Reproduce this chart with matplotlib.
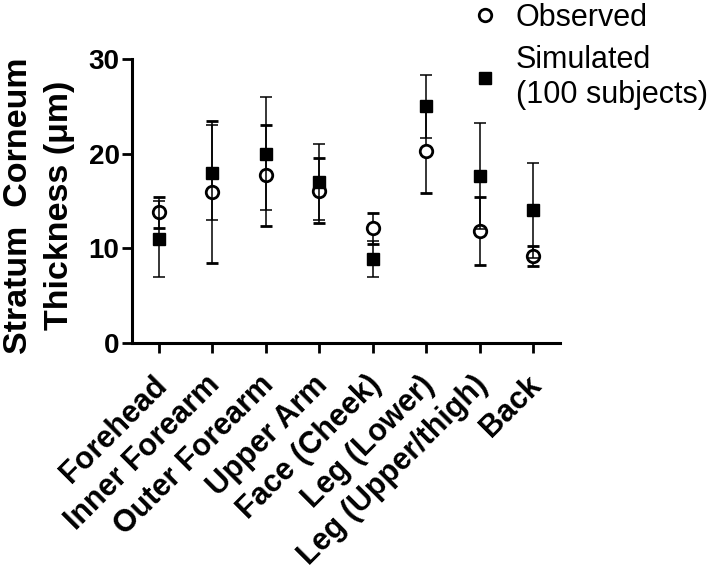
import matplotlib
matplotlib.use("Agg")
import matplotlib.pyplot as plt
import matplotlib.transforms as mtrans

# values
sites = ["Forehead", "Inner Forearm", "Outer Forearm", "Upper Arm",
         "Face (Cheek)", "Leg (Lower)", "Leg (Upper/thigh)", "Back"]
observed = [13.8, 16.0, 17.7, 16.1, 12.1, 20.3, 11.8, 9.2]
observed_err = [1.6, 7.5, 5.3, 3.4, 1.6, 4.5, 3.6, 1.05]
simulated = [11.0, 18.0, 20.0, 17.0, 8.9, 25.0, 17.6, 14.0]
simulated_err = [4.0, 5.0, 6.0, 4.0, 1.9, 3.3, 5.6, 5.0]
yticks = [0, 10, 20, 30]


def main():
    plt.rcParams['font.family'] = ['Liberation Sans', 'DejaVu Sans']

    fig = plt.figure(figsize=(7.09, 5.70), dpi=100)
    ax = fig.add_axes([132 / 709, 1 - 343 / 570, 428 / 709, 284 / 570])

    x = list(range(len(sites)))

    ax.errorbar(x, observed, yerr=observed_err, fmt='o', color='black',
                mfc='white', mec='black', mew=2, ms=9, elinewidth=1.1,
                capsize=4.3, capthick=1.1, label='Observed', zorder=3)
    ax.errorbar(x, simulated, yerr=simulated_err, fmt='s', color='black',
                ms=8, elinewidth=1.1, capsize=4.3, capthick=1.1,
                label='Simulated\n(100 subjects)', zorder=4)

    ax.set_xlim(-0.5, 7.5)
    ax.set_ylim(0, 30)
    ax.set_yticks(yticks)
    ax.set_xticks(x)
    ax.set_xticklabels([])

    # rotated category labels, placed a bit below the ticks
    shift = mtrans.ScaledTranslation(-7 / 100, -27 / 100, fig.dpi_scale_trans)
    for i, site in enumerate(sites):
        ax.text(i, 0, site, transform=ax.get_xaxis_transform() + shift,
                rotation=45, ha='right', va='top', rotation_mode='anchor',
                fontsize=22, fontweight='bold')

    for lab in ax.get_yticklabels():
        lab.set_fontsize(20)
        lab.set_fontweight('bold')

    ax.set_ylabel("Stratum  Corneum\nThickness (\u03bcm)", fontsize=24.5,
                  fontweight='bold', linespacing=1.4)
    ax.yaxis.set_label_coords(-0.133, 0.485)

    for s in ['top', 'right']:
        ax.spines[s].set_visible(False)
    for s in ['left', 'bottom']:
        ax.spines[s].set_linewidth(2.2)
    ax.tick_params(axis='both', direction='out', length=7, width=2, pad=2)

    handles, labels = ax.get_legend_handles_labels()
    handles = [h[0] for h in handles]
    fig.legend(handles, labels, loc='upper left',
               bbox_to_anchor=(470 / 709, 1 - 3 / 570), frameon=False,
               fontsize=22, handlelength=1.0, handletextpad=0.5,
               labelspacing=0.4, borderpad=0.0, borderaxespad=0.0)

    fig.savefig("out.png", dpi=100)


if __name__ == "__main__":
    main()
